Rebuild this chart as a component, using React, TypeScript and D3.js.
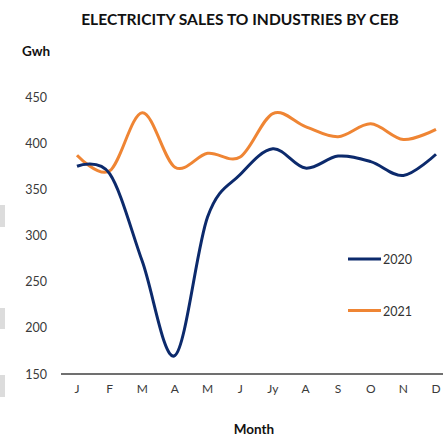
import React from 'react';
import * as d3 from 'd3';

// data
const months = ['J', 'F', 'M', 'A', 'M2', 'J2', 'Jy', 'A2', 'S', 'O', 'N', 'D'];
const monthLabels = ['J', 'F', 'M', 'A', 'M', 'J', 'Jy', 'A', 'S', 'O', 'N', 'D'];
const sales2020 = [375, 367, 272, 170, 320, 366, 394, 373, 386, 380, 365, 388];
const sales2021 = [387, 370, 433, 374, 389, 385, 432, 418, 407, 421, 404, 415];
const yTicks = [150, 200, 250, 300, 350, 400, 450];

const NAVY = '#0c2a6c';
const ORANGE = '#ef8534';
const FONT = "'Lato', 'DejaVu Sans', sans-serif";

export default function App() {
  const width = 443;
  const height = 437;

  // scales
  const x = d3.scalePoint<string>().domain(months).range([77, 436]);
  const y = d3.scaleLinear().domain([150, 450]).range([374, 97]);

  const line = d3
    .line<number>()
    .x((_, i) => x(months[i]) as number)
    .y(d => y(d))
    .curve(d3.curveCardinal.tension(0));

  return (
    <svg
      width={width}
      height={height}
      style={{ position: 'absolute', left: 0, top: 0, background: '#fff' }}
      fontFamily={FONT}
    >
      {/* stray grey marks at left edge */}
      <rect x={0} y={205} width={5} height={22} fill="#dcdcdc" />
      <rect x={0} y={308} width={5} height={21} fill="#dcdcdc" />
      <rect x={0} y={375} width={5} height={22} fill="#dcdcdc" />

      {/* title */}
      <text x={240} y={25} textAnchor="middle" fontSize={15.6} fontWeight="bold" fill="#111">
        ELECTRICITY SALES TO INDUSTRIES BY CEB
      </text>
      <text x={22} y={56} fontSize={13.5} fontWeight="bold" fill="#111">
        Gwh
      </text>

      {/* y ticks */}
      {yTicks.map(t => (
        <text key={t} x={47} y={y(t) + 4.5} textAnchor="end" fontSize={12.5} fill="#3a3a3a">
          {t}
        </text>
      ))}

      {/* x axis */}
      <line x1={61} x2={443} y1={y(150)} y2={y(150)} stroke="#404040" strokeWidth={1.5} />
      {months.map((m, i) => (
        <text key={m} x={x(m)} y={393} textAnchor="middle" fontSize={12} fill="#3a3a3a">
          {monthLabels[i]}
        </text>
      ))}
      <text x={254} y={434} textAnchor="middle" fontSize={13.5} fontWeight="bold" fill="#111">
        Month
      </text>

      {/* series */}
      <path d={line(sales2021) ?? ''} fill="none" stroke={ORANGE} strokeWidth={3} />
      <path d={line(sales2020) ?? ''} fill="none" stroke={NAVY} strokeWidth={3} />

      {/* legend */}
      <line x1={348} x2={381} y1={259} y2={259} stroke={NAVY} strokeWidth={3} />
      <text x={383} y={264} fontSize={12.5} fill="#333">2020</text>
      <line x1={348} x2={381} y1={310.5} y2={310.5} stroke={ORANGE} strokeWidth={3} />
      <text x={383} y={315.5} fontSize={12.5} fill="#333">2021</text>
    </svg>
  );
}
